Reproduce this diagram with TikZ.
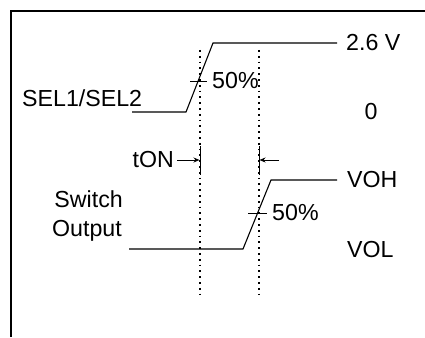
\documentclass[tikz,border=0pt]{standalone}
\usepackage{fontspec}
\setmainfont{Liberation Sans}
\usetikzlibrary{arrows.meta}
\begin{document}
\begin{tikzpicture}[x=1pt,y=-1pt,
  lbl/.style={inner sep=0pt,font=\fontsize{23.2}{28}\selectfont},
  wave/.style={line width=1.1pt},
  frame/.style={line width=1.6pt},
  dotline/.style={line width=2pt,dash pattern=on 1.8pt off 4pt},
  tick/.style={line width=1pt},
  tarrow/.style={line width=1pt,-{Stealth[length=6pt,width=5pt]}}]
\useasboundingbox (0,0) rectangle (425,337);
% frame
\draw[frame] (11,337) -- (11,11) -- (426,11);
% SEL waveform
\coordinate (s0) at (132,112);
\coordinate (s1) at (186,112);
\coordinate (s2) at (213,43);
\coordinate (s3) at (337,43);
\draw[wave] (s0) -- (s1) -- (s2) -- (s3);
% output waveform
\coordinate (o0) at (129,249);
\coordinate (o1) at (243,249);
\coordinate (o2) at (271,180);
\coordinate (o3) at (337,180);
\draw[wave] (o0) -- (o1) -- (o2) -- (o3);
% 50% ticks
\coordinate (ta) at (190,81);
\coordinate (tb) at (207,81);
\draw[tick] (ta) -- (tb);
\coordinate (tc) at (248,213);
\coordinate (td) at (267,213);
\draw[tick] (tc) -- (td);
% dotted lines
\coordinate (d1t) at (200,50);
\coordinate (d1b) at (200,296);
\coordinate (d2t) at (259,50);
\coordinate (d2b) at (259,296);
\draw[dotline] (d1t) -- (d1b);
\draw[dotline] (d2t) -- (d2b);
% tON markers
\coordinate (m1t) at (200,146);
\coordinate (m1b) at (200,175);
\coordinate (m2t) at (259,146);
\coordinate (m2b) at (259,175);
\draw[tick] (m1t) -- (m1b);
\draw[tick] (m2t) -- (m2b);
\coordinate (a1s) at (177,160);
\coordinate (a1e) at (199.5,160);
\coordinate (a2s) at (279,160);
\coordinate (a2e) at (259.5,160);
\draw[tarrow] (a1s) -- (a1e);
\draw[tarrow] (a2s) -- (a2e);
% labels
\node[lbl,anchor=west] (sel) at (22,98) {SEL1/SEL2};
\node[lbl,anchor=west] (v26) at (346,43) {2.6 V};
\node[lbl] (zero) at (371,112) {0};
\node[lbl,anchor=west] (p1) at (212,81) {50\%};
\node[lbl,anchor=east] (ton) at (174,160) {tON};
\node[lbl,anchor=base east] (sw) at (123,207) {Switch};
\node[lbl,anchor=base east] (outp) at (122,236) {Output};
\node[lbl,anchor=west] (voh) at (347,180) {VOH};
\node[lbl,anchor=west] (p2) at (272,213) {50\%};
\node[lbl,anchor=west] (vol) at (347,250) {VOL};
\end{tikzpicture}
\end{document}
